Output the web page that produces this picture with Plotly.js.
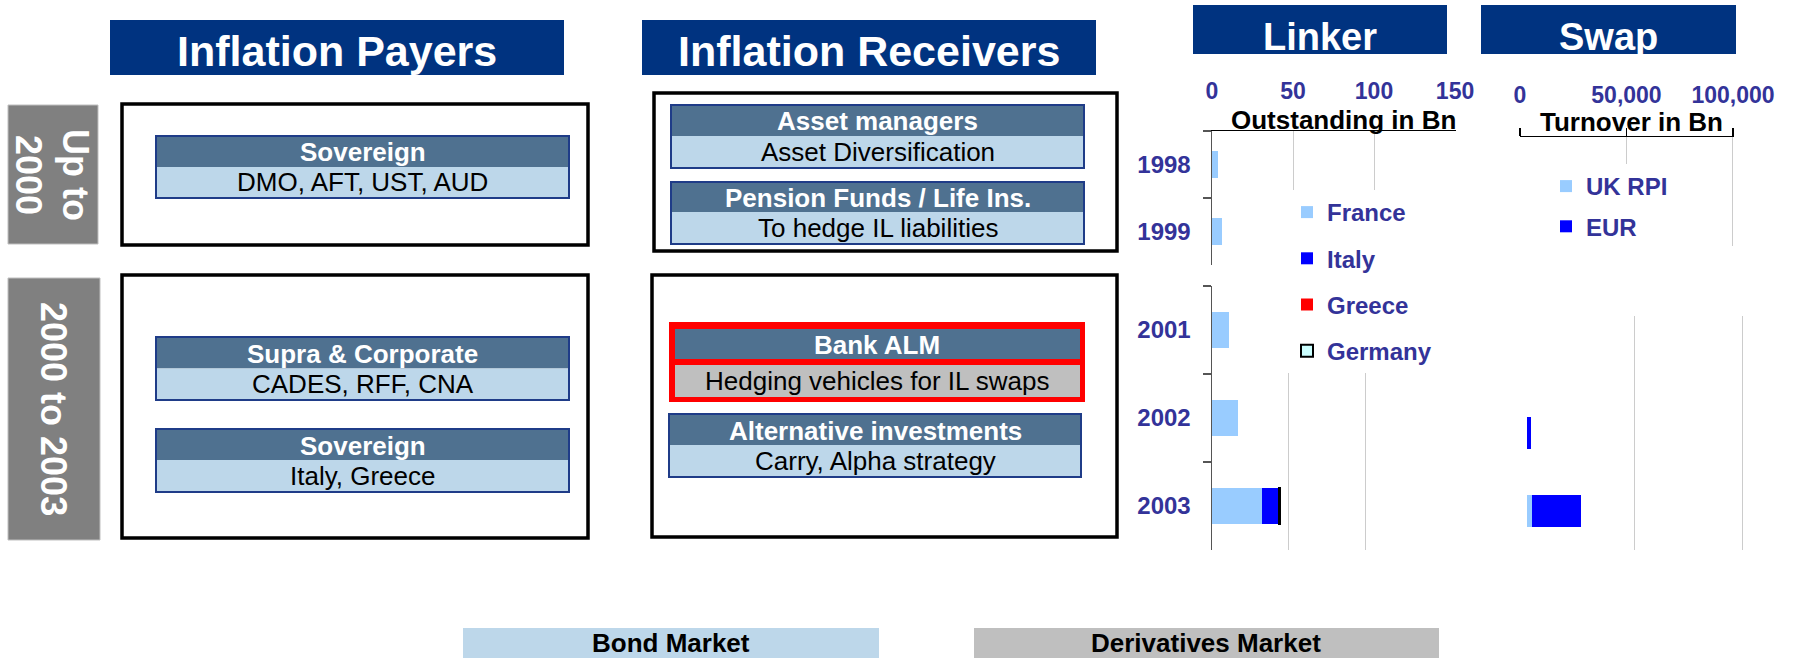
<!DOCTYPE html>
<html>
<head>
<meta charset="utf-8">
<script src="https://cdn.plot.ly/plotly-3.0.1.min.js"></script>
<style>html,body{margin:0;padding:0;background:#fff;}#chart{width:1793px;height:658px;}</style>
</head>
<body>
<div id="chart"></div>
<script>
// ---------- DATA ----------
const linkerYearsEarly = ['1998', '1999'];
const franceEarly = [3.7, 6.2];

const linkerYears = ['2001', '2002', '2003'];
const france = [11, 17, 32.5];
const italy = [null, null, 11];
const greece = [null, null, null];
const germany = [null, null, 1];

const swapYearsEarly = ['1998', '1999'];
const ukRpiEarly = [null, null];
const eurEarly = [null, null];

const swapYears = ['2001', '2002', '2003'];
const ukRpi = [null, null, 2300];
const eur = [null, 1800, 22500];

const linkerTickVals = [0, 50, 100, 150];
const linkerTickText = ['0', '50', '100', '150'];
const swapTickVals = [0, 50000, 100000];
const swapTickText = ['0', '50,000', '100,000'];

const columnHeaders = ['Inflation Payers', 'Inflation Receivers', 'Linker', 'Swap'];
const periodLabels = ['Up to<br>2000', '2000 to 2003'];
const payersEarly = [['Sovereign', 'DMO, AFT, UST, AUD']];
const payersLate = [['Supra & Corporate', 'CADES, RFF, CNA'], ['Sovereign', 'Italy, Greece']];
const receiversEarly = [['Asset managers', 'Asset Diversification'], ['Pension Funds / Life Ins.', 'To hedge IL liabilities']];
const receiversLate = [['Bank ALM', 'Hedging vehicles for IL swaps'], ['Alternative investments', 'Carry, Alpha strategy']];
const marketLabels = ['Bond Market', 'Derivatives Market'];
const axisTitles = ['Outstanding in Bn', 'Turnover in Bn'];

// ---------- STYLE ----------
const W = 1793, H = 658;
const FONT = 'Liberation Sans, Arial, Helvetica, sans-serif';
const NAVY = '#003380';
const STEEL = '#4F7190';
const LIGHT = '#BDD7EA';
const GREY_BOX = '#808080';
const DERIV = '#BFBFBF';
const CARD_LINE = '#1F3C88';
const LABEL = '#333399';
const GRID = '#CCCCCC';
const C_FR = '#99CCFF', C_IT = '#0000FF', C_GR = '#FF0000', C_DE = '#CCFFFF';

const px = x => x / W;
const py = y => 1 - y / H;

const shapes = [];
const annotations = [];
function rect(x0, y0, x1, y1, fill, line, lw) {
  shapes.push({type: 'rect', xref: 'paper', yref: 'paper', x0: px(x0), x1: px(x1), y0: py(y1), y1: py(y0),
    fillcolor: fill || 'rgba(0,0,0,0)', line: {color: line || 'rgba(0,0,0,0)', width: lw || 0}});
}
function txt(x, y, text, size, color, bold, angle) {
  annotations.push({xref: 'paper', yref: 'paper', x: px(x), y: py(y), text: text, showarrow: false,
    xanchor: 'center', yanchor: 'middle', textangle: angle || 0, borderpad: 0,
    font: {family: FONT, size: size, color: color, weight: bold ? 'bold' : 'normal'}});
}
function card(x0, x1, y0, ys, y1, item) {
  rect(x0, y0, x1, ys, STEEL);
  rect(x0, ys, x1, y1, LIGHT);
  rect(x0, y0, x1, y1, null, CARD_LINE, 2);
  txt((x0 + x1) / 2, (y0 + ys) / 2 + 1, item[0], 26, '#FFFFFF', true);
  txt((x0 + x1) / 2, (ys + y1) / 2, item[1], 26, '#000000', false);
}

// headers
rect(110, 20, 564, 75, NAVY); txt(337, 51, columnHeaders[0], 43, '#FFFFFF', true);
rect(642, 20, 1096, 75, NAVY); txt(869, 51, columnHeaders[1], 43, '#FFFFFF', true);
rect(1193, 5, 1447, 54, NAVY); txt(1320, 37, columnHeaders[2], 38, '#FFFFFF', true);
rect(1481, 5, 1736, 54, NAVY); txt(1608, 37, columnHeaders[3], 38, '#FFFFFF', true);

// period boxes
rect(8, 105, 98, 244, GREY_BOX, '#BFBFBF', 1); txt(52, 175, periodLabels[0], 36, '#FFFFFF', true, 90);
rect(8, 278, 100, 540, GREY_BOX, '#BFBFBF', 1); txt(54, 409, periodLabels[1], 36, '#FFFFFF', true, 90);

// frames
rect(122, 104, 588, 245, '#FFFFFF', '#000000', 3.5);
rect(122, 275, 588, 538, '#FFFFFF', '#000000', 3.5);
rect(654, 93, 1117, 251, '#FFFFFF', '#000000', 3.5);
rect(652, 275, 1117, 537, '#FFFFFF', '#000000', 3.5);

// cards
card(156, 569, 136, 167, 198, payersEarly[0]);
card(156, 569, 337, 368.5, 400, payersLate[0]);
card(156, 569, 429, 460, 492, payersLate[1]);
card(671, 1084, 105, 136, 168, receiversEarly[0]);
card(671, 1084, 182, 212, 244, receiversEarly[1]);
// Bank ALM (red highlighted)
rect(669, 322, 1085, 402, '#FF0000');
rect(675, 329, 1080, 359, STEEL);
rect(675, 365, 1080, 397, DERIV);
txt(877, 345, receiversLate[0][0], 26, '#FFFFFF', true);
txt(877, 381, receiversLate[0][1], 26, '#000000', false);
card(669, 1081, 414, 445, 477, receiversLate[1]);

// market keys
rect(463, 628, 879, 658, LIGHT); txt(671, 643, marketLabels[0], 26, '#000000', true);
rect(974, 628, 1439, 658, DERIV); txt(1206, 643, marketLabels[1], 26, '#000000', true);

// axis titles
txt(1343, 120, axisTitles[0], 26, '#000000', true);
txt(1631, 122, axisTitles[1], 26, '#000000', true);

// ---------- TRACES ----------
function bar(xa, ya, y, x, name, color, opts) {
  return Object.assign({type: 'bar', orientation: 'h', y: y, x: x, name: name, xaxis: xa, yaxis: ya,
    marker: {color: color, line: {width: 0}}, hoverinfo: 'skip'}, opts || {});
}
const traces = [
  bar('x', 'y', linkerYearsEarly, franceEarly, 'France', C_FR, {showlegend: false, legendgroup: 'fr'}),
  bar('x2', 'y2', linkerYears, france, 'France', C_FR, {legendgroup: 'fr'}),
  bar('x2', 'y2', linkerYears, italy, 'Italy', C_IT, {legendgroup: 'it'}),
  bar('x2', 'y2', linkerYears, greece, 'Greece', C_GR, {legendgroup: 'gr'}),
  bar('x2', 'y2', linkerYears, germany, 'Germany', C_DE, {legendgroup: 'de', marker: {color: C_DE, line: {color: '#000000', width: 2}}}),
  bar('x3', 'y3', swapYearsEarly, ukRpiEarly, 'UK RPI', C_FR, {showlegend: false, legend: 'legend2', legendgroup: 'uk'}),
  bar('x3', 'y3', swapYearsEarly, eurEarly, 'EUR', C_IT, {showlegend: false, legend: 'legend2', legendgroup: 'eu'}),
  bar('x4', 'y4', swapYears, ukRpi, 'UK RPI', C_FR, {legend: 'legend2', legendgroup: 'uk'}),
  bar('x4', 'y4', swapYears, eur, 'EUR', C_IT, {legend: 'legend2', legendgroup: 'eu'})
];

const tickFont = {family: FONT, size: 23, color: LABEL, weight: 'bold'};
const yearFont = {family: FONT, size: 24, color: LABEL, weight: 'bold'};
const legendFont = {family: FONT, size: 24, color: LABEL, weight: 'bold'};

const layout = {
  width: W, height: H, autosize: false,
  margin: {l: 0, r: 0, t: 0, b: 0, pad: 0},
  paper_bgcolor: '#FFFFFF', plot_bgcolor: 'rgba(0,0,0,0)',
  barmode: 'stack', bargap: 0.585, hovermode: false,
  font: {family: FONT},
  xaxis: {domain: [px(1212), px(1456)], range: [0, 150.6], anchor: 'y', side: 'top',
    tickmode: 'array', tickvals: linkerTickVals, ticktext: linkerTickText, tickfont: tickFont,
    ticks: '', ticklabelstandoff: 21, showline: true, linecolor: '#000000', linewidth: 1.5,
    showgrid: true, gridcolor: GRID, gridwidth: 1, zeroline: false, fixedrange: true},
  yaxis: {domain: [py(265), py(131)], anchor: 'x', type: 'category', categoryorder: 'array',
    categoryarray: linkerYearsEarly, range: [1.5, -0.5], showline: true, linecolor: '#555555', linewidth: 1.5,
    ticks: 'outside', ticklen: 8, tickcolor: '#555555', tickwidth: 1.5, tickson: 'boundaries',
    tickfont: yearFont, ticklabelstandoff: 15, showgrid: false, zeroline: false, fixedrange: true},
  xaxis2: {domain: [px(1212), px(1441)], range: [0, 149], anchor: 'y2', side: 'top',
    tickmode: 'array', tickvals: linkerTickVals, showticklabels: false, ticks: '',
    showline: false, showgrid: true, gridcolor: GRID, gridwidth: 1, zeroline: false, fixedrange: true},
  yaxis2: {domain: [py(550), py(286)], anchor: 'x2', type: 'category', categoryorder: 'array',
    categoryarray: linkerYears, range: [2.5, -0.5], showline: true, linecolor: '#555555', linewidth: 1.5,
    ticks: 'outside', ticklen: 8, tickcolor: '#555555', tickwidth: 1.5, tickson: 'boundaries',
    tickfont: yearFont, ticklabelstandoff: 15, showgrid: false, zeroline: false, fixedrange: true},
  xaxis3: {domain: [px(1520), px(1734)], range: [0, 100500], anchor: 'y3', side: 'top',
    tickmode: 'array', tickvals: swapTickVals, ticktext: swapTickText, tickfont: tickFont,
    ticks: 'outside', ticklen: 8, tickcolor: '#000000', tickwidth: 1.5, ticklabelstandoff: 15,
    showline: true, linecolor: '#000000', linewidth: 1.5,
    showgrid: true, gridcolor: GRID, gridwidth: 1, zeroline: false, fixedrange: true},
  yaxis3: {domain: [py(246), py(137)], anchor: 'x3', type: 'category', categoryorder: 'array',
    categoryarray: swapYearsEarly, range: [1.5, -0.5], showline: false, showticklabels: false, ticks: '',
    showgrid: false, zeroline: false, fixedrange: true},
  xaxis4: {domain: [px(1527), px(1744)], range: [0, 100500], anchor: 'y4', side: 'top',
    tickmode: 'array', tickvals: swapTickVals, showticklabels: false, ticks: '',
    showline: false, showgrid: true, gridcolor: GRID, gridwidth: 1, zeroline: false, fixedrange: true},
  yaxis4: {domain: [py(550), py(316)], anchor: 'x4', type: 'category', categoryorder: 'array',
    categoryarray: swapYears, range: [2.5, -0.5], showline: false, showticklabels: false, ticks: '',
    showgrid: false, zeroline: false, fixedrange: true},
  legend: {x: px(1287), xanchor: 'left', y: py(190), yanchor: 'top', bgcolor: '#FFFFFF',
    borderwidth: 0, font: legendFont, traceorder: 'grouped', tracegroupgap: 12, itemclick: false, itemdoubleclick: false},
  legend2: {x: px(1546), xanchor: 'left', y: py(164), yanchor: 'top', bgcolor: '#FFFFFF',
    borderwidth: 0, font: legendFont, traceorder: 'grouped', tracegroupgap: 6, itemclick: false, itemdoubleclick: false},
  shapes: shapes,
  annotations: annotations
};

Plotly.newPlot('chart', traces, layout, {displayModeBar: false, staticPlot: true});
</script>
</body>
</html>
